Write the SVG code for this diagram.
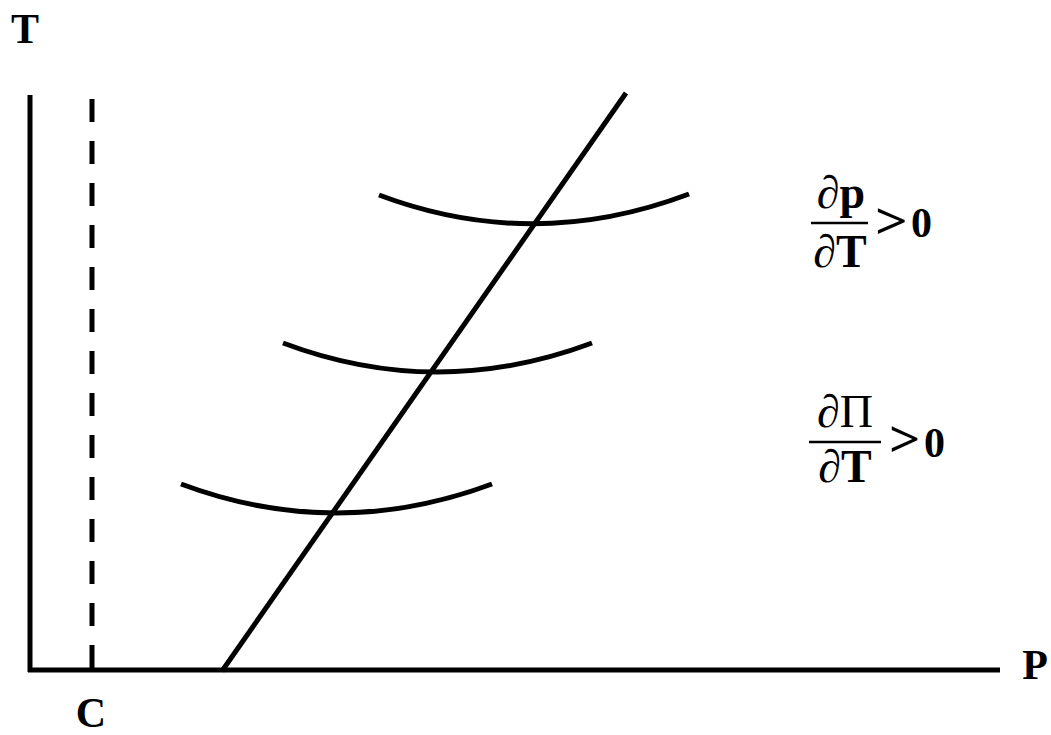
<svg xmlns="http://www.w3.org/2000/svg" width="1051" height="735" viewBox="0 0 1051 735">
<style>
.ln{stroke:#000;stroke-width:5;fill:none}
.t{font-family:"Liberation Serif","Times New Roman",serif;font-weight:bold;fill:#000}
.d{font-weight:normal}
</style>
<rect width="1051" height="735" fill="#fff"/>
<g id="axes">
<line class="ln" x1="30" y1="95" x2="30" y2="672"/>
<line class="ln" x1="28" y1="670" x2="1000" y2="670"/>
<line class="ln" x1="92" y1="99" x2="92" y2="670" stroke-dasharray="23 19"/>
</g>
<g id="connectors">
<line class="ln" x1="222" y1="671" x2="626" y2="93"/>
<path class="ln" d="M379 195 Q533 253 689 194"/>
<path class="ln" d="M283 343 Q437 401 592 343"/>
<path class="ln" d="M181 484 Q336 542 492 484"/>
</g>
<g id="labels">
<text class="t" x="25" y="43" font-size="42" text-anchor="middle">T</text>
<text class="t" x="91" y="727" font-size="42" text-anchor="middle">C</text>
<text class="t" x="1035" y="679" font-size="42" text-anchor="middle">P</text>
</g>
<g id="formula1">
<text class="t" x="841" y="208" font-size="46" text-anchor="middle"><tspan class="d">∂</tspan>p</text>
<line x1="811" y1="223" x2="868" y2="223" stroke="#000" stroke-width="2.5"/>
<text class="t" x="840" y="267" font-size="46" text-anchor="middle"><tspan class="d">∂</tspan>T</text>
<text class="t" font-size="50" transform="translate(875 238) scale(1.15 1)">&gt;</text>
<text class="t" x="911" y="237" font-size="42">0</text>
</g>
<g id="formula2">
<text class="t" x="845" y="427" font-size="46" text-anchor="middle"><tspan class="d">∂Π</tspan></text>
<line x1="809" y1="442" x2="881" y2="442" stroke="#000" stroke-width="2.5"/>
<text class="t" font-size="50" transform="translate(889 456) scale(1.1 1)">&gt;</text>
<text class="t" x="845" y="482" font-size="46" text-anchor="middle"><tspan class="d">∂</tspan>T</text>
<text class="t" x="924" y="457" font-size="42">0</text>
</g>
</svg>
